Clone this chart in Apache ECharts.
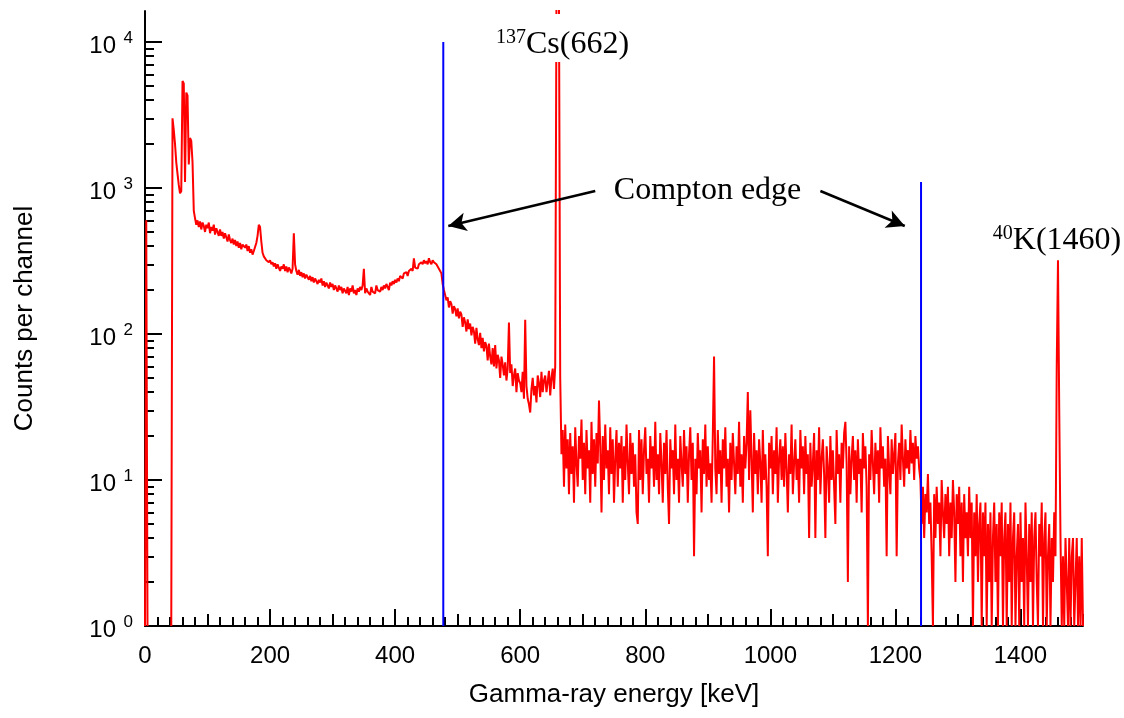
<!DOCTYPE html>
<html>
<head>
<meta charset="utf-8">
<script src="https://cdn.jsdelivr.net/npm/echarts@6.0.0/dist/echarts.min.js"></script>
<style>
html,body{margin:0;padding:0;background:#fff;}
#chart{width:1124px;height:718px;}
</style>
</head>
<body>
<div id="chart"></div>
<script>
// ---- data ----
const keVPerChannel = 2;

// counts, 0 - 478 keV
const countsLow = [
  1, 600, 1, null, null, null, null, null, null, null,
  null, null, null, null, null, null, null, null, null, null,
  null, 1, 3000, 2500, 2000, 1500, 1250, 1050, 920, 950,
  5400, 5200, 1100, 4500, 4300, 1450, 2200, 2100, 1500, 700,
  620, 560, 600, 540, 590, 520, 580, 550, 500, 560,
  530, 580, 490, 540, 510, 560, 480, 530, 500, 470,
  520, 470, 500, 450, 490, 460, 430, 480, 440, 420,
  450, 410, 440, 400, 430, 390, 420, 380, 410, 400,
  390, 410, 370, 400, 360, 380, 350, 370, 380, 420,
  470, 560, 540, 430, 360, 340, 350, 320, 330, 310,
  320, 300, 310, 290, 305, 280, 300, 285, 270, 290,
  280, 300, 270, 290, 265, 285, 275, 260, 280, 490,
  300, 270, 255, 275, 250, 265, 245, 260, 240, 255,
  245, 235, 250, 230, 245, 225, 240, 230, 220, 235,
  225, 240, 215, 230, 210, 225, 215, 205, 225, 210,
  220, 200, 215, 205, 195, 215, 200, 210, 190, 205,
  200, 190, 210, 185, 205, 195, 215, 190, 200, 185,
  205, 195, 210, 200, 215, 280, 190, 205, 195, 200,
  185, 210, 195, 200, 190, 215, 200, 205, 195, 210,
  200, 215, 205, 220, 210, 200, 225, 215, 230, 220,
  235, 225, 240, 230, 250, 245, 240, 260, 255, 265,
  250, 270, 265, 280, 270, 330, 285, 290, 280, 300,
  295, 310, 300, 320, 305, 315, 300, 330, 310, 300,
  320, 310, 305, 300, 290, 295, 270, 260, 220, 200
];

// counts, 480 - 1238 keV
const countsMid = [
  195, 170, 178, 152, 168, 160, 138, 155, 148, 132,
  150, 128, 142, 136, 112, 130, 120, 104, 126, 108,
  118, 98, 112, 104, 86, 110, 92, 84, 102, 80,
  94, 76, 88, 83, 66, 86, 70, 62, 80, 60,
  84, 58, 72, 66, 50, 70, 62, 52, 64, 48,
  58, 120, 54, 62, 44, 52, 58, 40, 54, 48,
  46, 40, 55, 36, 125, 44, 36, 33, 29, 42,
  50, 38, 44, 34, 52, 46, 37, 55, 40, 48,
  52, 40, 47, 56, 38, 50, 58, 42, 60, 20000,
  25000, 20000, 50, 15, 22, 9, 24, 12, 19, 8,
  21, 11, 17, 7, 23, 13, 9, 20, 14, 26,
  10, 18, 8, 22, 12, 16, 7, 25, 11, 19,
  9, 21, 13, 35, 17, 6, 20, 10, 24, 12,
  16, 8, 23, 11, 19, 7, 14, 22, 9, 18,
  12, 20, 7, 17, 10, 24, 13, 8, 21, 11,
  18, 9, 15, 6, 5, 22, 10, 19, 8, 16,
  23, 11, 14, 7, 20, 12, 17, 9, 25, 10,
  15, 8, 21, 13, 7, 18, 11, 22, 9, 5,
  19, 12, 16, 8, 24, 10, 14, 7, 20, 13,
  9, 22, 11, 17, 7, 15, 23, 10, 18, 3,
  14, 8, 21, 12, 16, 6, 19, 11, 24, 9,
  17, 10, 13, 7, 20, 70, 12, 8, 22, 11,
  16, 7, 19, 12, 23, 9, 14, 6, 18, 10,
  21, 13, 8, 17, 11, 25, 9, 15, 7, 20,
  12, 18, 40, 10, 30, 14, 6, 21, 11, 16,
  8, 19, 13, 7, 22, 10, 15, 9, 3, 18,
  12, 20, 8, 16, 11, 23, 7, 14, 19, 10,
  17, 9, 21, 12, 6, 15, 11, 24, 8, 13,
  19, 10, 14, 7, 22, 12, 17, 8, 20, 11,
  15, 4, 18, 9, 13, 21, 4, 16, 10, 23,
  8, 14, 19, 11, 4, 17, 12, 7, 20, 10,
  16, 9, 5, 22, 11, 15, 7, 18, 12, 21,
  25, 13, 2, 17, 8, 14, 20, 10, 16, 7,
  19, 11, 14, 6, 21, 12, 17, 9, 1, 15,
  10, 22, 13, 8, 18, 11, 16, 7, 23, 12,
  17, 9, 14, 3, 20, 12, 8, 19, 11, 15,
  21, 3, 13, 18, 10, 24, 14, 9, 19, 12,
  16, 11, 22, 13, 18, 10, 20, 14, 17, 12
];

// counts, 1240 - 1500 keV
const countsHigh = [
  10, 5, 9, 4, 8, 6, 11, 5, 7, 3,
  1, 8, 4, 9, 5, 7, 3, 10, 6, 4,
  8, 5, 9, 3, 7, 4, 10, 6, 2, 8,
  5, 9, 3, 7, 2, 8, 4, 6, 3, 9,
  4, 7, 1, 6, 3, 8, 2, 5, 7, 1,
  6, 3, 7, 1, 5, 2, 6, 1, 4, 7,
  2, 5, 1, 6, 3, 7, 1, 4, 6, 1,
  5, 2, 7, 1, 4, 6, 1, 3, 5, 1,
  6, 2, 4, 1, 7, 3, 1, 5, 2, 6,
  1, 4, 6, 2, 1, 5, 3, 7, 1, 4,
  6, 1, 3, 5, 1, 4, 2, 6, 3, 60,
  320, 30, 4, 1, 3, 1, 4, 2, 1, 4,
  1, 3, 4, 1, 2, 4, 1, 3, 1, 4,
  1
];

const xLabelValues = [0, 200, 400, 600, 800, 1000, 1200, 1400];
const yDecades = [1, 10, 100, 1000, 10000];
const yMinorTicks = [2, 3, 4, 5, 6, 7, 8, 9,
  20, 30, 40, 50, 60, 70, 80, 90,
  200, 300, 400, 500, 600, 700, 800, 900,
  2000, 3000, 4000, 5000, 6000, 7000, 8000, 9000];

const comptonEdgeKeV = [477, 1241];
const comptonEdgeTop = [10000, 1100];

const annoText = ['{s|137}{m|Cs(662)}', '{m|Compton edge}', '{s|40}{m|K(1460)}'];
const annoX = [667.7, 899.6, 1458.5];
const annoY = [10650, 963, 438];

const arrowFrom = [[720, 954], [1080, 954]];
const arrowTo = [[485, 549], [1215, 549]];

// ---- chart ----
const counts = countsLow.concat(countsMid, countsHigh);
const spectrum = counts.map((v, i) => [i * keVPerChannel, v]);

const SANS = 'Liberation Sans, Arial, sans-serif';
const SERIF = 'Liberation Serif, Times New Roman, serif';

const edgeSeries = comptonEdgeKeV.map((x, i) => ({
  type: 'line',
  data: [[x, 1], [x, comptonEdgeTop[i]]],
  symbol: 'none',
  lineStyle: { color: '#0000ff', width: 2 },
  z: 3,
  silent: true
}));

const annoRich = {
  m: { fontFamily: SERIF, fontSize: 32, lineHeight: 34, fill: '#000' },
  s: { fontFamily: SERIF, fontSize: 20, lineHeight: 20, verticalAlign: 'top', padding: [0, 0, 14, 0], fill: '#000' }
};

const chart = echarts.init(document.getElementById('chart'), null, { renderer: 'canvas' });
chart.setOption({
  animation: false,
  backgroundColor: '#fff',
  grid: { left: 145, right: 41, top: 11, bottom: 92 },
  xAxis: [
    {
      type: 'value', min: 0, max: 1500, interval: 100, position: 'bottom',
      axisLine: { show: true, onZero: false, lineStyle: { color: '#000', width: 2 } },
      axisTick: { show: true, inside: true, length: 12, lineStyle: { color: '#000', width: 2 } },
      minorTick: { show: true, splitNumber: 5, length: 9, lineStyle: { color: '#000', width: 2 } },
      splitLine: { show: false }, minorSplitLine: { show: false },
      axisLabel: { customValues: xLabelValues, margin: 18, fontSize: 24, color: '#000', fontFamily: SANS,
        formatter: v => String(v) },
      name: 'Gamma-ray energy [keV]', nameLocation: 'middle', nameGap: 56,
      nameTextStyle: { fontSize: 26, color: '#000', fontFamily: SANS }
    },
    {
      type: 'value', min: 0, max: 1500, interval: 100, position: 'bottom',
      axisLine: { show: false },
      axisTick: { show: true, inside: true, length: 17, customValues: xLabelValues, lineStyle: { color: '#000', width: 2 } },
      axisLabel: { show: false }, splitLine: { show: false }
    }
  ],
  yAxis: [
    {
      // main axis: line, decade ticks, mantissa "10" (slightly below the tick)
      type: 'log', logBase: 10, min: 1, max: 16300, position: 'left',
      axisLine: { show: true, onZero: false, lineStyle: { color: '#000', width: 2 } },
      axisTick: { show: true, inside: true, length: 17, customValues: yDecades, lineStyle: { color: '#000', width: 2 } },
      axisLabel: {
        customValues: yDecades, margin: 29,
        formatter: () => '{sp| }\n{b|10}',
        rich: {
          sp: { fontSize: 6, lineHeight: 8 },
          b: { fontSize: 24, lineHeight: 24, color: '#000', fontFamily: SANS }
        }
      },
      splitLine: { show: false },
      name: 'Counts per channel', nameLocation: 'middle', nameGap: 107, nameRotate: 90,
      nameTextStyle: { fontSize: 26, color: '#000', fontFamily: SANS }
    },
    {
      // minor ticks and the exponent (superscript) of each decade label
      type: 'log', logBase: 10, min: 1, max: 16300, position: 'left',
      axisLine: { show: false },
      axisTick: { show: true, inside: true, length: 9, customValues: yMinorTicks, lineStyle: { color: '#000', width: 2 } },
      axisLabel: {
        customValues: yDecades, margin: 12,
        formatter: v => '{e|' + Math.round(Math.log10(v)) + '}\n{sp| }',
        rich: {
          e: { fontSize: 17, lineHeight: 17, color: '#000', fontFamily: SANS },
          sp: { fontSize: 6, lineHeight: 8 }
        }
      },
      splitLine: { show: false }
    }
  ],
  series: [
    {
      type: 'line', name: 'spectrum', data: spectrum,
      xAxisIndex: 0, yAxisIndex: 0,
      symbol: 'none', showSymbol: false, connectNulls: false, clip: true,
      lineStyle: { color: '#ff0000', width: 2 }, z: 2, silent: true
    },
    ...edgeSeries,
    {
      type: 'line', data: [], silent: true, z: 4,
      markLine: {
        silent: true, symbol: ['none', 'arrow'], symbolSize: [14, 18],
        label: { show: false },
        lineStyle: { color: '#000', width: 2.5, type: 'solid' },
        data: arrowFrom.map((f, i) => [{ coord: f }, { coord: arrowTo[i] }])
      }
    },
    {
      type: 'custom', z: 10, silent: true,
      data: annoText.map((t, i) => [annoX[i], annoY[i], i]),
      renderItem: (params, api) => {
        const i = api.value(2);
        const p = api.coord([api.value(0), api.value(1)]);
        return {
          type: 'text', x: p[0], y: p[1], z2: 100,
          style: {
            text: annoText[i], rich: annoRich,
            align: 'center', verticalAlign: 'middle',
            backgroundColor: i === 0 ? '#fff' : null,
            padding: i === 0 ? [14, 3, 0, 3] : 0,
            fill: '#000'
          }
        };
      }
    }
  ]
});
</script>
</body>
</html>
